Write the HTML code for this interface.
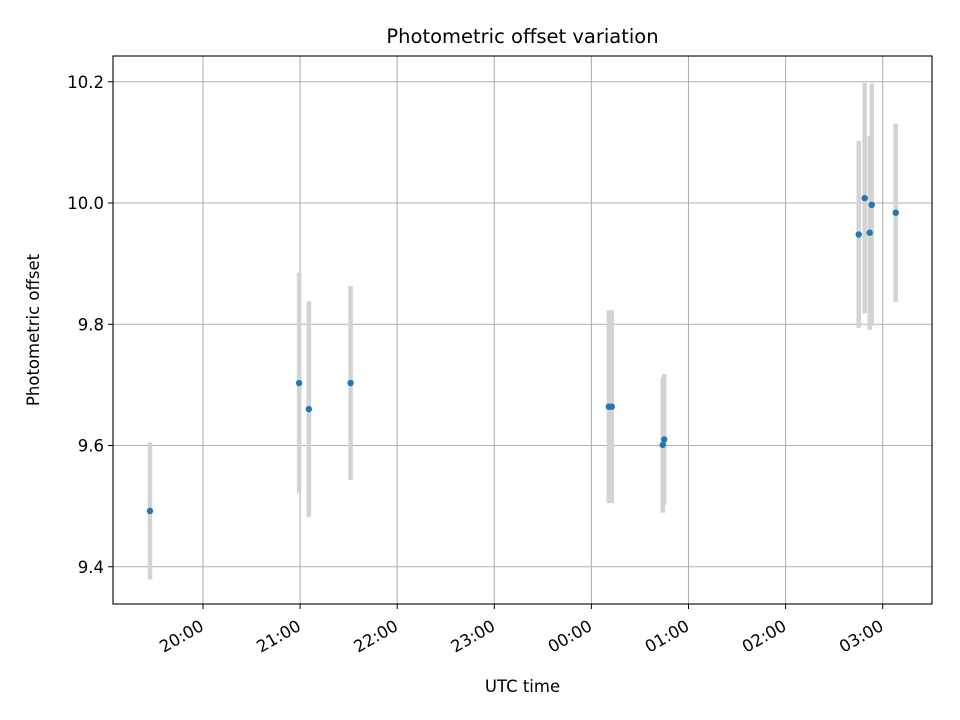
<!DOCTYPE html>
<html><head><meta charset="utf-8"><style>
html,body{margin:0;padding:0;background:#fff}
svg{display:block;font-family:"DejaVu Sans","Liberation Sans",sans-serif}
</style></head><body>
<svg id="c" width="960" height="720"></svg>
<script>
const times=[19.454,20.99,21.09,21.52,24.18,24.21,24.735,24.75,26.753,26.814,26.866,26.887,27.134];
const values=[9.492,9.703,9.660,9.703,9.664,9.664,9.601,9.610,9.948,10.008,9.951,9.997,9.984];
const errors=[0.113,0.182,0.178,0.160,0.159,0.159,0.112,0.108,0.154,0.190,0.160,0.200,0.147];
const yTicks=[9.4,9.6,9.8,10.0,10.2];
const xTicks=[20,21,22,23,24,25,26,27];
const xTickLabels=["20:00","21:00","22:00","23:00","00:00","01:00","02:00","03:00"];
const L=113,R=932,T=56,B=604;
const X=h=>203+(h-20)*97.1;
const Y=v=>203-(v-10)*606.25;
const NS="http://www.w3.org/2000/svg";
const svg=document.getElementById('c');
function mk(t,a,p){const e=document.createElementNS(NS,t);for(const k in a)e.setAttribute(k,a[k]);(p||svg).appendChild(e);return e;}
const grid=mk('g',{});


xTicks.forEach((h,i)=>{const x=X(h);
 const g=mk('line',{x1:x,x2:x,y1:T,y2:B,stroke:'#b0b0b0','stroke-width':1.1},grid);
 
 
 mk('line',{x1:x,x2:x,y1:B,y2:B+5,stroke:'#000','stroke-width':1});
 const ax=x-1, ay=B+26;
 const t=mk('text',{x:ax,y:ay,'font-size':16.5,'text-anchor':'end',transform:`rotate(-30 ${ax} ${ay-6})`});
 t.textContent=xTickLabels[i];
 
 
});
yTicks.forEach(v=>{const y=Y(v);
 const g=mk('line',{x1:L,x2:R,y1:y,y2:y,stroke:'#b0b0b0','stroke-width':1.1},grid);
 
 
 mk('line',{x1:L-5,x2:L,y1:y,y2:y,stroke:'#000','stroke-width':1});
 const t=mk('text',{x:L-9,y:y+6,'font-size':16.5,'text-anchor':'end'});
 t.textContent=v.toFixed(1);
 
 
});
times.forEach((h,i)=>{const x=X(h);
 const e=mk('line',{x1:x,x2:x,y1:Y(values[i]+errors[i]),y2:Y(values[i]-errors[i]),stroke:'#d3d3d3','stroke-width':4.5});
 
 
});
times.forEach((h,i)=>{
 const p=mk('circle',{cx:X(h),cy:Y(values[i]),r:3.2,fill:'#1f77b4'});
 
 
});
const f=mk('rect',{x:L,y:T,width:R-L,height:B-T,fill:'none',stroke:'#000','stroke-width':1.1});


const ti=mk('text',{x:(L+R)/2,y:43,'font-size':19.5,'text-anchor':'middle'});ti.textContent='Photometric offset variation';


const xl=mk('text',{x:(L+R)/2,y:692,'font-size':16.5,'text-anchor':'middle'});xl.textContent='UTC time';


const yl=mk('text',{x:39,y:330,'font-size':16.5,'text-anchor':'middle',transform:'rotate(-90 39 330)'});yl.textContent='Photometric offset';


</script>
</body></html>
